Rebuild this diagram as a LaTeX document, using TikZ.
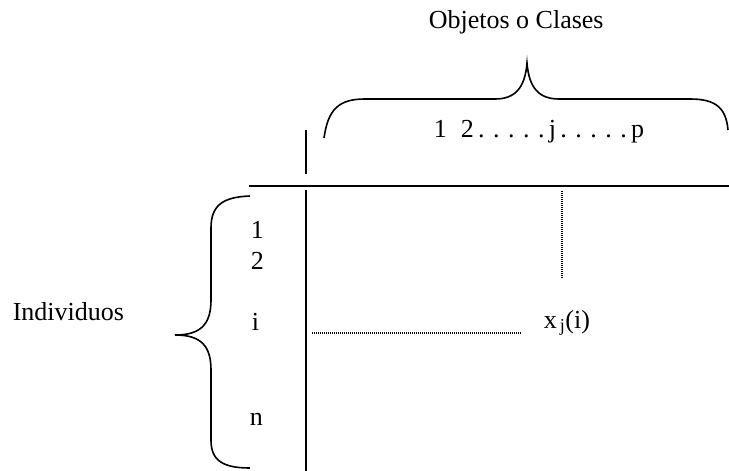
\documentclass[tikz,border=0pt]{standalone}
\usepackage{fontspec}
\setmainfont{Liberation Serif}
\newcommand{\pto}{\makebox[15pt]{.}}
\begin{document}
\begin{tikzpicture}[x=1pt,y=-1pt,line width=1.6pt,
  lbl/.style={inner sep=0pt,anchor=base west,font=\fontsize{26}{31}\selectfont},
  punteada/.style={line width=1.2pt,dash pattern=on 1pt off 1pt}]
\useasboundingbox (0,0) rectangle (729,471);
\draw (249,186) -- (729,186);
\draw (306,130) -- (306,174);
\draw (306,190) -- (306,471);
% llaves
\draw (324,138) .. controls (328,110) and (338,99) .. (365,99) -- (495,99)
  .. controls (515,99) and (525,88) .. (527,63)
  .. controls (529,88) and (539,99) .. (559,99) -- (690,99)
  .. controls (716,99) and (726,108) .. (728,130);
\draw (250,196) .. controls (222,197) and (211,206) .. (211,228) -- (211,300)
  .. controls (211,325) and (200,335) .. (175,335)
  .. controls (200,335) and (211,345) .. (211,370) -- (211,440)
  .. controls (211,460) and (222,468) .. (250,468);
\node[lbl] (titulo) at (428,28) {Objetos o Clases};
\node[lbl] (cols) at (433,137) {1\hspace{14pt}2\pto\pto\pto\pto\pto j\pto\pto\pto\pto\pto p};
\node[lbl] (indiv) at (12,320) {Individuos};
\node[lbl] (f1) at (250,238) {1};
\node[lbl] (f2) at (250,269) {2};
\node[lbl] (fi) at (251,330) {i};
\node[lbl] (fn) at (249,425) {n};
\node[lbl] (xji) at (543,328) {x\textsubscript{\,j}(i)};
\coordinate (cj) at (562,191);
\coordinate (cj2) at (562,278);
\coordinate (ci) at (312,333);
\coordinate (ci2) at (522,333);
\draw[punteada] (cj) -- (cj2);
\draw[punteada] (ci) -- (ci2);
\end{tikzpicture}
\end{document}
